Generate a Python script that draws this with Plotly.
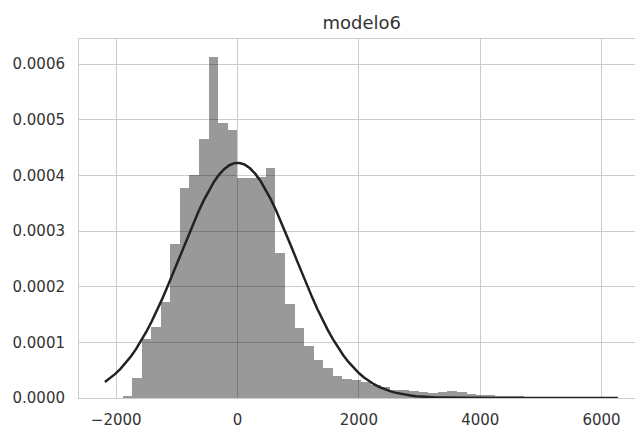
import numpy as np
import plotly.graph_objects as go

# ---- data ----
bin_start = -1896.0
bin_width = 157.5
density_e4 = [0.03, 0.36, 1.06, 1.28, 1.73, 2.77, 3.78, 4.00, 4.65, 6.13,
              4.94, 4.81, 3.95, 3.96, 3.97, 4.14, 2.60, 1.69, 1.26, 0.94,
              0.69, 0.54, 0.40, 0.34, 0.33, 0.29, 0.24, 0.20, 0.15, 0.14,
              0.12, 0.11, 0.09, 0.10, 0.13, 0.11, 0.07, 0.06, 0.05, 0.04,
              0.04, 0.04, 0.02, 0.01, 0.006, 0.005, 0.004, 0.003, 0.002, 0.002]
fit_mu = 0.0
fit_sigma = 944.0
fit_x_min = -2186.0
fit_x_max = 6269.0
x_ticks = [-2000, 0, 2000, 4000, 6000]
y_ticks = [0.0, 0.0001, 0.0002, 0.0003, 0.0004, 0.0005, 0.0006]
title_text = "modelo6"

# ---- derived ----
n = len(density_e4)
centers = [bin_start + bin_width * (i + 0.5) for i in range(n)]
heights = [v * 1e-4 for v in density_e4]
fx = np.linspace(fit_x_min, fit_x_max, 100)
fy = np.exp(-0.5 * ((fx - fit_mu) / fit_sigma) ** 2) / (fit_sigma * np.sqrt(2 * np.pi))

font = "DejaVu Sans"
txt = "#333333"
grid = "#cccccc"

fig = go.Figure()
fig.add_trace(go.Bar(x=centers, y=heights, width=[bin_width] * n,
                     marker=dict(color="rgba(0,0,0,0.4)", line=dict(width=0)),
                     showlegend=False, hoverinfo="skip"))
fig.add_trace(go.Scatter(x=fx, y=fy, mode="lines",
                         line=dict(color="#222222", width=2.5),
                         showlegend=False, hoverinfo="skip"))

fig.update_layout(
    width=635, height=428,
    margin=dict(l=79, r=0, t=39, b=30),
    paper_bgcolor="white", plot_bgcolor="white",
    bargap=0,
    font=dict(family=font, size=15, color=txt),
    title=dict(text=title_text, x=(361.8 - 79) / 556, xref="paper",
               y=1 - 23 / 428, yref="container", xanchor="center", yanchor="middle",
               font=dict(family=font, size=18, color=txt)),
)
fig.update_xaxes(range=[-2613, 6551], tickvals=x_ticks,
                 ticktext=[("\u2212" + str(abs(v))) if v < 0 else str(v) for v in x_ticks],
                 showgrid=True, gridcolor=grid, gridwidth=1,
                 showline=True, linecolor=grid, linewidth=1, mirror=True,
                 zeroline=False, ticks="", ticklabelstandoff=8,
                 tickfont=dict(family=font, size=15, color=txt))
fig.update_yaxes(range=[0, 0.000645], tickvals=y_ticks,
                 ticktext=["%.4f" % v for v in y_ticks],
                 showgrid=True, gridcolor=grid, gridwidth=1,
                 showline=True, linecolor=grid, linewidth=1, mirror=True,
                 zeroline=False, ticks="", ticklabelstandoff=10,
                 tickfont=dict(family=font, size=15, color=txt))

fig.write_html("out.html")
